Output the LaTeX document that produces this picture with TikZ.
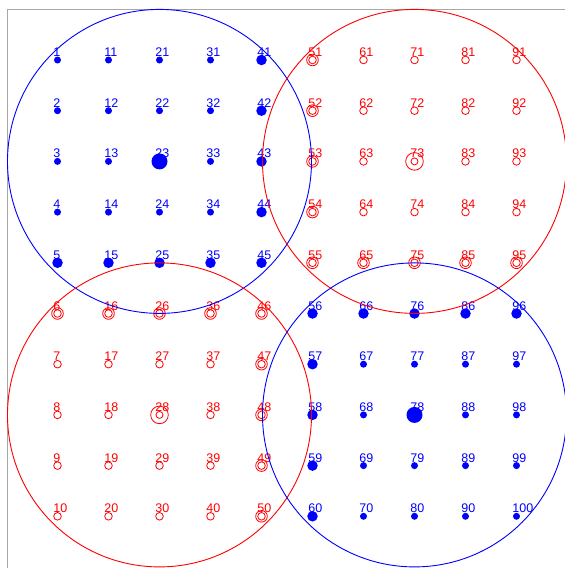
\documentclass[tikz,border=0pt]{standalone}
\usepackage{fontspec}
\setmainfont{Liberation Sans}
\definecolor{framegray}{RGB}{168,168,168}
\definecolor{ptblue}{RGB}{0,0,255}
\definecolor{ptred}{RGB}{255,0,0}
\begin{document}
\begin{tikzpicture}[x=1pt,y=-1pt,
  lbl/.style={anchor=base west, inner sep=0pt, font=\fontsize{12.5}{12.5}\selectfont},
  dot/.style={circle, fill=ptblue, draw=none, inner sep=0pt},
  bsm/.style={dot, minimum size=7pt},
  bmd/.style={dot, minimum size=10.5pt},
  blg/.style={dot, minimum size=16pt},
  ring/.style={circle, draw=ptred, line width=0.8pt, fill=none, inner sep=0pt, minimum size=7.6pt},
  bigring/.style={circle, draw=ptred, line width=0.8pt, fill=none, inner sep=0pt, minimum size=7pt},
  outerring/.style={draw=ptred, line width=0.8pt},
  zone/.style={line width=0.9pt}
]
\useasboundingbox (0,0) rectangle (565,568);
\coordinate (fbl) at (7.3,568);
\coordinate (ftl) at (7.3,9.3);
\coordinate (ftr) at (565,9.3);
\draw[framegray, line width=1pt] (fbl) -- (ftl) -- (ftr);

\foreach \c in {0,...,9} {
  \foreach \r in {0,...,9} {
    \pgfmathtruncatemacro{\n}{10*\c+\r+1}
    \pgfmathsetmacro{\px}{57.5+51*\c}
    \pgfmathsetmacro{\py}{60+50.7*\r}
    \pgfmathtruncatemacro{\isblue}{((\c<5)==(\r<5))}
    \pgfmathtruncatemacro{\isborder}{or(or(\c==4,\c==5),or(\r==4,\r==5))}
    \pgfmathtruncatemacro{\iscenter}{and(or(\c==2,\c==7),or(\r==2,\r==7))}
    \ifnum\isblue=1
      \ifnum\iscenter=1
        \node[blg] (p\n) at (\px,\py) {};
      \else
        \ifnum\isborder=1
          \node[bmd] (p\n) at (\px,\py) {};
        \else
          \node[bsm] (p\n) at (\px,\py) {};
        \fi
      \fi
      \node[lbl, text=ptblue] (t\n) at (\px-4.3,\py-3.5) {\n};
    \else
      \ifnum\iscenter=1
        \node[bigring] (p\n) at (\px,\py) {};
        \draw[outerring] (p\n.center) circle[radius=8.8];
      \else
        \node[ring] (p\n) at (\px,\py) {};
        \ifnum\isborder=1
          \draw[outerring] (p\n.center) circle[radius=5.8];
        \fi
      \fi
      \node[lbl, text=ptred] (t\n) at (\px-4.3,\py-3.5) {\n};
    \fi
  }
}

\draw[zone, ptblue] (p23.center) circle[radius=152];
\draw[zone, ptred] (p73.center) circle[radius=152];
\draw[zone, ptred] (p28.center) circle[radius=152];
\draw[zone, ptblue] (p78.center) circle[radius=152];
\end{tikzpicture}
\end{document}
